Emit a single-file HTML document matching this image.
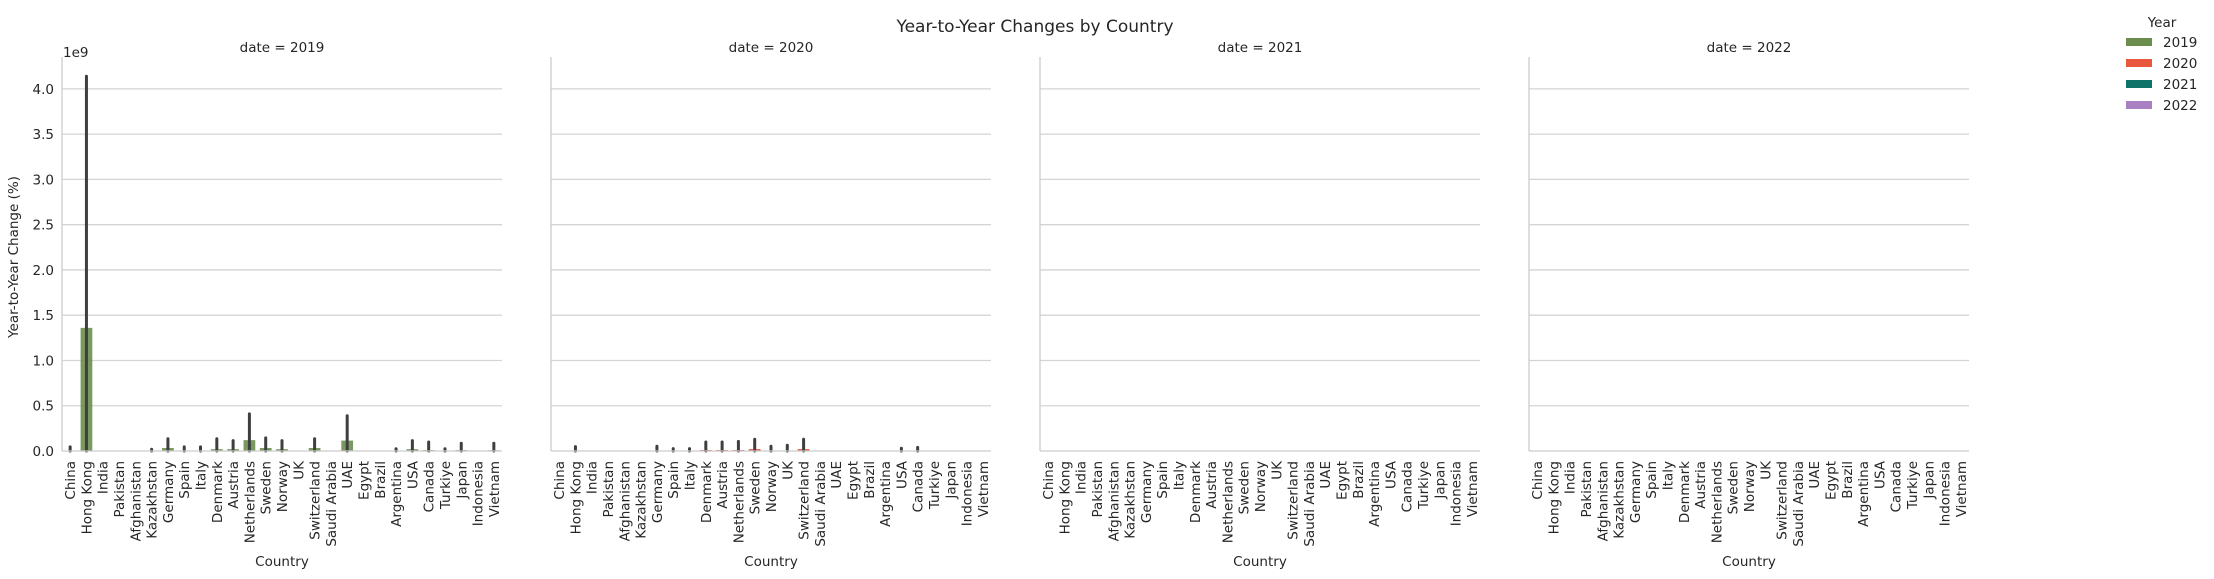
<!DOCTYPE html>
<html><head><meta charset="utf-8"><style>
html,body{margin:0;padding:0;background:#fff}
svg{display:block;font-family:"DejaVu Sans","Liberation Sans",sans-serif}
</style></head><body>
<svg id="chart" width="2214" height="579" viewBox="0 0 2214 579">
<text x="1035" y="32" text-anchor="middle" font-size="17" fill="#262626">Year-to-Year Changes by Country</text>
<text x="18" y="257" transform="rotate(-90 18 257)" text-anchor="middle" font-size="13.5" fill="#262626">Year-to-Year Change (%)</text>
<text x="63" y="57" font-size="13.5" fill="#262626">1e9</text>
<g id="legend">
<text x="2162" y="27" text-anchor="middle" font-size="13.5" fill="#262626">Year</text>
</g>
</svg>
<script>
const countries = ["China","Hong Kong","India","Pakistan","Afghanistan","Kazakhstan","Germany","Spain","Italy","Denmark","Austria","Netherlands","Sweden","Norway","UK","Switzerland","Saudi Arabia","UAE","Egypt","Brazil","Argentina","USA","Canada","Turkiye","Japan","Indonesia","Vietnam"];
const years = ["2019","2020","2021","2022"];
const yTicks = [0,0.5,1.0,1.5,2.0,2.5,3.0,3.5,4.0];
const yTickLabels = ["0.0","0.5","1.0","1.5","2.0","2.5","3.0","3.5","4.0"];
// values in units of 1e9
const bars2019 = [0,1.36,0,0,0,0,0.033,0,0,0.02,0.02,0.12,0.033,0.02,0,0.033,0,0.115,0,0,0,0.02,0.01,0,0.01,0,0.008];
const err2019  = [0.045,4.14,0,0,0,0.02,0.135,0.045,0.045,0.135,0.115,0.41,0.145,0.115,0,0.135,0,0.39,0,0,0.025,0.115,0.1,0.025,0.085,0,0.085];
const bars2020 = [0,0.003,0,0,0,0,0.003,0.002,0.002,0.011,0.011,0.011,0.022,0.003,0.004,0.022,0,0,0,0,0,0.002,0.003,0,0,0,0];
const err2020  = [0,0.048,0,0,0,0,0.052,0.026,0.026,0.1,0.1,0.107,0.13,0.052,0.063,0.13,0,0,0,0,0,0.03,0.04,0,0,0,0];
const bars2021 = [];
const err2021 = [];
const bars2022 = [];
const err2022 = [];
const seriesBars = [bars2019,bars2020,bars2021,bars2022];
const seriesErr = [err2019,err2020,err2021,err2022];
const colors = ["#6b8e4e","#e8573e","#0f7369","#a87fc0"];

const NS="http://www.w3.org/2000/svg";
const svg=document.getElementById('chart');
function mk(tag,attrs,parent){const e=document.createElementNS(NS,tag);for(const k in attrs)e.setAttribute(k,attrs[k]);(parent||svg).appendChild(e);return e;}
const panelLefts=[62,551,1040,1529];
const panelW=440, y0=451, yTop=59, yMax=4.33;
function yScale(v){return y0-(v/yMax)*(y0-yTop);}
const band=panelW/countries.length;
function xScale(p,i){return panelLefts[p]+band*(i+0.5);}

panelLefts.forEach((L,p)=>{
  const g=mk('g',{});
  
  
  const t=mk('text',{x:L+panelW/2,y:52,'text-anchor':'middle','font-size':'13.5',fill:'#262626'},g);
  t.textContent='date = '+years[p];
  
  
  yTicks.forEach((v,k)=>{
    if(v>0){const gl=mk('line',{x1:L,x2:L+panelW,y1:yScale(v),y2:yScale(v),stroke:'#d4d4d4','stroke-width':1.3},g);
    
    }
    if(p===0){const tl=mk('text',{x:54,y:yScale(v)+5,'text-anchor':'end','font-size':'13.5',fill:'#262626'},g);
    tl.textContent=yTickLabels[k];
    
    }
  });
  const bw=band*0.72;
  const bars=seriesBars[p], errs=seriesErr[p];
  countries.forEach((c,i)=>{
    const cx=xScale(p,i);
    const b=bars[i]||0;
    if(b>0){const r=mk('rect',{x:cx-bw/2,y:yScale(b),width:bw,height:y0-yScale(b),fill:colors[p],opacity:0.9},g);
      
      }
    const e=errs[i]||0;
    if(e>0){const l=mk('line',{x1:cx,x2:cx,y1:y0,y2:yScale(e),stroke:'#3f3f3f','stroke-width':3,'stroke-linecap':'round'},g);
      
      }
    const tx=mk('text',{x:0,y:0,'text-anchor':'end','font-size':'13.5',fill:'#262626',transform:`translate(${cx+5},461) rotate(-90)`},g);
    tx.textContent=c;
    
    
  });
  const sl=mk('line',{x1:L,x2:L,y1:yTop-2,y2:y0,stroke:'#cccccc','stroke-width':1.3},g);
  
  
  const sb=mk('line',{x1:L,x2:L+panelW,y1:y0,y2:y0,stroke:'#cccccc','stroke-width':1.3},g);
  
  
  const xt=mk('text',{x:L+panelW/2,y:566,'text-anchor':'middle','font-size':'13.5',fill:'#262626'},g);
  xt.textContent='Country';
  
  
});
const lg=document.getElementById('legend');
years.forEach((yr,k)=>{
  const cy=42+k*21;
  const r=mk('rect',{x:2126,y:cy-4,width:26,height:8,fill:colors[k]},lg);
  
  
  const t=mk('text',{x:2163,y:cy+5,'font-size':'13.5',fill:'#262626'},lg);
  t.textContent=yr;
  
  
});
</script>
</body></html>
